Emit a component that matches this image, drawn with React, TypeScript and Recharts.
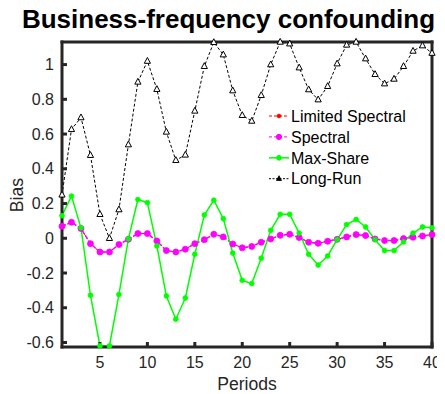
import React from 'react';
import { LineChart, Line, XAxis, YAxis, Legend } from 'recharts';

const periods = [1, 2, 3, 4, 5, 6, 7, 8, 9, 10, 11, 12, 13, 14, 15, 16, 17, 18, 19, 20, 21, 22, 23, 24, 25, 26, 27, 28, 29, 30, 31, 32, 33, 34, 35, 36, 37, 38, 39, 40];

const limitedSpectral = [0.069, 0.092, 0.056, -0.031, -0.079, -0.079, -0.036, -0.006, 0.027, 0.027, -0.015, -0.071, -0.079, -0.063, -0.031, -0.008, 0.023, 0.008, -0.033, -0.055, -0.047, -0.023, -0.004, 0.017, 0.023, 0.004, -0.023, -0.029, -0.017, -0.006, 0.008, 0.021, 0.016, -0.004, -0.013, -0.013, -0.002, 0.006, 0.013, 0.021];
const spectral = [0.069, 0.092, 0.056, -0.031, -0.079, -0.079, -0.036, -0.006, 0.027, 0.027, -0.015, -0.071, -0.079, -0.063, -0.031, -0.008, 0.023, 0.008, -0.033, -0.055, -0.047, -0.023, -0.004, 0.017, 0.023, 0.004, -0.023, -0.029, -0.017, -0.006, 0.008, 0.021, 0.016, -0.004, -0.013, -0.013, -0.002, 0.006, 0.013, 0.021];
const maxShare = [0.13, 0.243, 0.06, -0.328, -0.62, -0.62, -0.324, -0.004, 0.223, 0.205, -0.044, -0.332, -0.466, -0.344, -0.092, 0.134, 0.219, 0.113, -0.085, -0.242, -0.261, -0.115, 0.046, 0.138, 0.138, 0.03, -0.092, -0.154, -0.102, -0.008, 0.079, 0.108, 0.065, -0.008, -0.071, -0.071, -0.021, 0.03, 0.065, 0.06];
const longRun = [0.25, 0.627, 0.695, 0.478, 0.138, 0.0, 0.165, 0.539, 0.9, 1.02, 0.858, 0.612, 0.449, 0.48, 0.733, 0.99, 1.128, 1.057, 0.85, 0.708, 0.675, 0.823, 1.0, 1.13, 1.12, 0.982, 0.856, 0.798, 0.875, 1.005, 1.113, 1.13, 1.034, 0.944, 0.89, 0.917, 0.99, 1.078, 1.109, 1.066];

const xTicks = [5, 10, 15, 20, 25, 30, 35, 40];
const yTicks = [-0.6, -0.4, -0.2, 0, 0.2, 0.4, 0.6, 0.8, 1];
const seriesNames = ['Limited Spectral', 'Spectral', 'Max-Share', 'Long-Run'];
const titleText = 'Business-frequency confounding';
const xLabel = 'Periods';
const yLabel = 'Bias';

const data = periods.map((p, i) => ({
  period: p,
  ls: limitedSpectral[i],
  sp: spectral[i],
  ms: maxShare[i],
  lr: longRun[i],
}));

const FONT = '"Liberation Sans", Arial, Helvetica, sans-serif';
const AX = '#262626';
const RED = '#ff0000';
const MAG = '#ff00ff';
const GRN = '#00ff00';
const BLK = '#000000';

const circleDot = (color: string, r: number) => (props: any) => {
  const { cx, cy, index } = props;
  if (cx == null || cy == null) return <g key={`e-${index}`} />;
  return <circle key={`d-${index}`} cx={cx} cy={cy} r={r} fill={color} stroke={color} strokeWidth={0.8} />;
};

const triDot = (props: any) => {
  const { cx, cy, index } = props;
  if (cx == null || cy == null) return <g key={`e-${index}`} />;
  const pts = `${cx},${cy - 3.6} ${cx - 3.1},${cy + 2.2} ${cx + 3.1},${cy + 2.2}`;
  return <polygon key={`t-${index}`} points={pts} fill="#ffffff" stroke={BLK} strokeWidth={1} />;
};

const legendStyles = [
  { color: RED, dash: '3 2', marker: 'dot', r: 1.8 },
  { color: MAG, dash: '3 2', marker: 'dot', r: 2.6 },
  { color: GRN, dash: undefined, marker: 'dot', r: 2.4 },
  { color: BLK, dash: '2 1.5', marker: 'tri', r: 0 },
];

const renderLegend = () => (
  <svg width={175} height={90}>
    {seriesNames.map((name, i) => {
      const st = legendStyles[i];
      const y = 11 + i * 20.9;
      return (
        <g key={name}>
          <line x1={8} x2={28} y1={y} y2={y} stroke={st.color} strokeWidth={st.color === GRN ? 1.5 : 1} strokeDasharray={st.dash} />
          {st.marker === 'dot' ? (
            <circle cx={18} cy={y} r={st.r} fill={st.color} stroke={st.color} />
          ) : (
            <polygon points={`18,${y - 3} 15.5,${y + 1.8} 20.5,${y + 1.8}`} fill={BLK} stroke={BLK} strokeWidth={0.8} />
          )}
          <text x={30} y={y + 5.7} fontSize={16} fontFamily={FONT} fill={BLK}>
            {name}
          </text>
        </g>
      );
    })}
  </svg>
);

const fmt = (v: number) => String(Math.round(v * 10) / 10);

export default function App() {
  const axisLine = { stroke: AX, strokeWidth: 3, strokeLinecap: 'square' as const };
  const tickLine = { stroke: AX, strokeWidth: 3 };
  const tickStyle = { fill: AX, fontSize: 16, fontFamily: FONT };
  return (
    <div style={{ position: 'relative', width: 437, height: 386 }}>
      <LineChart width={437} height={386} data={data} margin={{ top: 33, right: 12, bottom: 0, left: 0 }}>
        <XAxis
          dataKey="period"
          type="number"
          domain={[1, 40]}
          ticks={xTicks}
          interval={0}
          height={47}
          tickSize={-5}
          tickMargin={15}
          axisLine={axisLine}
          tickLine={tickLine}
          tick={tickStyle}
        />
        <XAxis
          xAxisId="top"
          orientation="top"
          type="number"
          domain={[1, 40]}
          ticks={xTicks}
          interval={0}
          height={1}
          tickSize={-5}
          axisLine={axisLine}
          tickLine={tickLine}
          tick={false}
        />
        <YAxis
          type="number"
          domain={[-0.626, 1.13]}
          ticks={yTicks}
          interval={0}
          width={54}
          tickSize={-5}
          tickMargin={13}
          tickFormatter={fmt}
          axisLine={axisLine}
          tickLine={tickLine}
          tick={tickStyle}
        />
        <YAxis
          yAxisId="right"
          orientation="right"
          type="number"
          domain={[-0.626, 1.13]}
          ticks={yTicks}
          interval={0}
          width={1}
          tickSize={-5}
          axisLine={axisLine}
          tickLine={tickLine}
          tick={false}
        />
        <Legend
          layout="horizontal"
          verticalAlign="middle"
          align="center"
          wrapperStyle={{ left: 253, top: 97, width: 175, height: 90 }}
          content={renderLegend}
        />
        <Line
          dataKey="ls"
          name={seriesNames[0]}
          stroke={RED}
          strokeWidth={1}
          strokeDasharray="4 2 1 2"
          dot={circleDot(RED, 1.8)}
          isAnimationActive={false}
        />
        <Line
          dataKey="sp"
          name={seriesNames[1]}
          stroke={MAG}
          strokeWidth={1.5}
          strokeDasharray="4 2"
          dot={circleDot(MAG, 3)}
          isAnimationActive={false}
        />
        <Line
          dataKey="ms"
          name={seriesNames[2]}
          stroke={GRN}
          strokeWidth={1.5}
          dot={circleDot(GRN, 2.4)}
          isAnimationActive={false}
        />
        <Line
          dataKey="lr"
          name={seriesNames[3]}
          stroke={BLK}
          strokeWidth={1}
          strokeDasharray="3 2"
          dot={triDot}
          isAnimationActive={false}
        />
      </LineChart>
      <svg
        width={445}
        height={394}
        style={{ position: 'absolute', left: -8, top: -8, pointerEvents: 'none', overflow: 'visible' }}
      >
        <text x={228.5} y={28.3} textAnchor="middle" fontSize={26} fontWeight="bold" fontFamily={FONT} fill={BLK}>
          {titleText}
        </text>
        <text x={247} y={389.5} textAnchor="middle" fontSize={17.6} fontFamily={FONT} fill={AX}>
          {xLabel}
        </text>
        <text x={23} y={195} textAnchor="middle" fontSize={17.6} fontFamily={FONT} fill={AX} transform="rotate(-90, 23, 195)">
          {yLabel}
        </text>
      </svg>
    </div>
  );
}
